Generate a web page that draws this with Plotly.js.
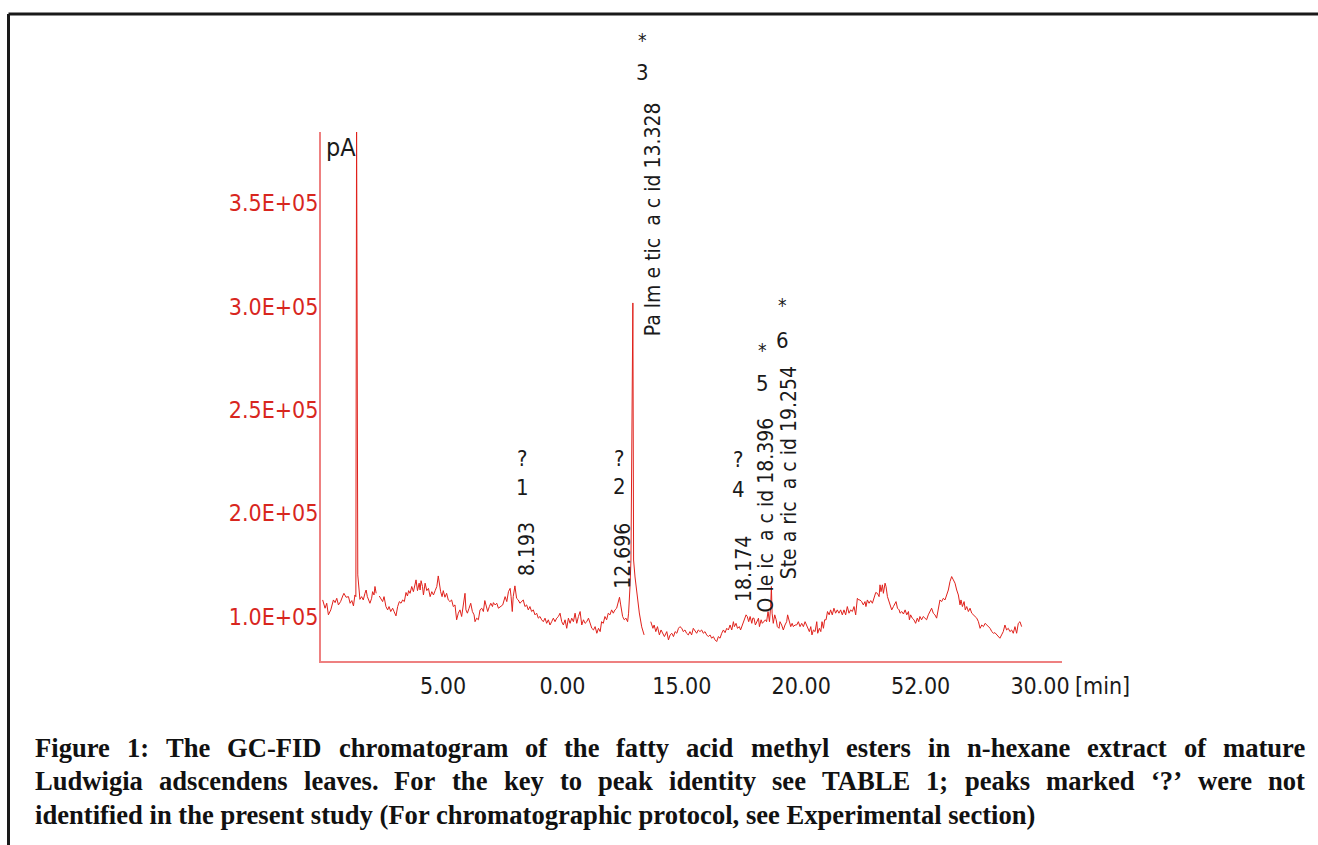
<!DOCTYPE html>
<html>
<head>
<meta charset="utf-8">
<script src="https://cdn.plot.ly/plotly-3.0.1.min.js"></script>
<style>html,body{margin:0;padding:0;background:#fff;}#chart{width:1318px;height:845px;}</style>
</head>
<body>
<div id="chart"></div>
<script>
// ---------- data (retention time in min, detector signal in pA) ----------
const time = [
-0.04,0.06,0.13,0.20,0.30,0.41,0.48,0.55,0.62,0.71,0.80,0.85,0.94,1.04,1.11,1.18,1.25,1.31,1.35,1.38,1.43,1.48,1.52,1.59,1.66,1.73,1.78,1.83,1.87,1.94,2.01,2.05,2.11,2.15,2.20,2.26,
2.33,2.40,2.47,2.53,2.61,2.68,2.74,2.81,2.89,2.95,3.03,3.10,3.17,3.24,3.31,3.38,3.45,3.51,3.56,3.62,3.69,3.76,3.83,3.87,3.93,4.00,4.04,4.08,4.14,4.18,4.25,4.32,4.39,4.46,4.53,4.60,4.67,4.74,4.80,4.85,4.90,4.96,
5.01,5.08,5.15,5.22,5.29,5.36,5.43,5.50,5.57,5.64,5.71,5.78,5.85,5.92,5.96,6.02,6.09,6.16,6.23,6.30,6.34,6.41,6.48,6.55,6.62,6.69,6.75,6.80,6.87,6.94,7.00,7.07,7.11,7.18,7.25,7.32,
7.39,7.50,7.60,7.67,7.74,7.81,7.85,7.90,7.94,8.01,8.08,8.15,8.22,8.29,8.36,8.43,8.50,8.57,8.64,8.71,8.78,8.85,8.92,8.99,9.06,9.13,9.20,9.27,9.34,9.41,9.48,9.55,9.62,9.69,9.76,9.83,9.90,9.97,
10.04,10.11,10.18,10.25,10.32,10.39,10.46,10.53,10.60,10.67,10.74,10.81,10.88,10.95,11.02,11.09,11.16,11.23,11.30,11.37,11.44,11.51,11.58,11.64,11.71,11.78,11.85,11.92,11.99,12.06,12.13,12.20,12.27,12.34,12.39,12.44,12.52,12.59,12.66,12.73,12.77,12.83,
12.87,12.95,12.98,13.04,13.11,13.22,13.32,13.42,13.56,
13.70,13.79,13.84,13.91,13.98,14.06,14.13,14.20,14.27,14.37,14.44,14.51,14.58,14.65,14.72,14.79,14.86,
14.92,15.00,15.06,15.13,15.20,15.27,15.34,15.41,15.48,15.55,15.62,15.69,15.76,15.83,15.90,15.97,16.04,16.11,16.18,16.25,16.32,16.39,16.46,16.53,16.60,16.67,16.74,16.81,16.88,16.95,17.02,17.09,17.16,17.20,17.27,17.33,17.41,17.46,17.55,17.62,17.69,17.74,17.80,17.86,17.93,17.97,
18.02,18.08,18.13,18.21,18.25,18.32,18.37,18.44,18.50,18.55,18.61,18.67,18.72,18.75,18.78,18.83,18.89,18.95,19.00,19.07,19.11,19.18,19.25,19.32,19.39,19.43,19.50,19.56,19.62,19.67,19.74,19.81,19.88,19.95,
20.02,20.09,20.16,20.23,20.30,20.34,20.40,20.45,20.51,20.58,20.65,20.69,20.76,20.82,20.87,20.93,20.98,21.04,21.10,21.17,21.23,21.30,21.37,21.44,21.51,21.58,21.65,21.72,21.79,21.86,21.93,22.00,22.07,22.14,22.21,22.28,22.35,22.41,
22.46,22.53,22.60,22.67,22.71,22.77,22.84,22.91,22.98,23.05,23.12,23.19,23.26,23.30,23.34,23.40,23.44,23.51,23.55,23.61,23.69,23.79,23.86,23.93,23.97,24.03,24.10,24.14,24.21,24.28,24.35,24.42,24.49,24.53,24.58,24.65,24.72,24.79,24.86,24.92,24.97,
25.04,25.11,25.18,25.25,25.32,25.39,25.46,25.53,25.60,25.67,25.74,25.81,25.88,25.95,26.02,26.09,26.16,26.23,26.30,26.37,26.44,26.51,26.58,26.65,26.69,26.75,26.82,26.87,26.93,27.00,27.07,27.14,27.21,27.28,27.35,27.42,27.49,27.56,27.63,27.70,27.77,27.84,27.91,27.98,
28.05,28.11,28.18,28.25,28.32,28.39,28.46,28.53,28.60,28.67,28.74,28.81,28.88,28.95,29.02,29.09,29.16,29.23
];
const signal = [
158200,154200,156600,151000,153400,158200,156900,159000,155800,157400,160100,161400,159500,159800,156600,157900,155300,160600,159800,395000,170300,161400,158500,159800,158200,161400,163000,159800,158500,156600,159000,162200,160600,164700,161400,null,
160100,159000,157400,159800,155000,153400,155000,152600,154200,152600,150500,155000,157400,156600,158200,157400,161800,160100,162700,161400,164700,162200,165500,167900,162700,166300,163000,167500,164700,160600,166300,162700,163800,159800,162200,160600,162700,164700,169800,164700,162200,159800,
162700,159500,161400,158200,157400,158200,155000,155800,148600,151800,153400,150200,155000,161400,153400,151800,154200,156600,152600,151000,147700,149400,148600,153400,154200,152600,157900,155000,152600,155000,156600,155000,156900,155800,156600,154200,
155000,155800,159800,157400,162200,163800,159800,152600,159800,165000,159000,158200,156600,157400,158200,155000,155800,153400,155000,152600,153400,151000,151800,149400,150200,148600,147700,149400,146900,148600,146100,147700,149400,147700,149400,150200,151800,147700,
146100,148600,144500,149400,146900,149400,147700,151800,146900,150200,152600,146100,148600,146900,147700,149400,146900,144500,143700,145300,142100,144500,142900,147700,146900,150200,148600,151800,151000,153400,151800,153400,154200,157400,159500,155800,150200,148600,149400,147700,151800,164700,
177500,301700,177500,169300,161600,151900,145200,141300,null,
147700,144500,146100,142900,145300,141300,143700,142100,140500,142900,138900,141300,142100,140500,142900,142100,144500,
145300,144500,142900,143700,142100,141300,142900,141300,144500,142900,142100,143700,142900,143700,142100,142900,141300,140500,141300,139700,140500,138900,138100,140500,139700,142100,143700,142400,144500,143700,146100,143700,147700,145300,146900,144500,145300,143700,146900,149400,151000,150200,147700,150200,146900,149400,
149400,146100,147700,149400,145300,148600,146900,147700,148600,147700,152600,147700,155000,164700,151800,146900,151000,148600,145300,144500,147700,146100,143700,146100,147700,151000,147700,145300,146900,145300,146100,146100,147700,145300,
146900,145300,147700,146100,143700,142900,145300,141300,143700,142900,147700,142100,144500,142900,147700,144500,148600,148600,152600,151000,153400,151000,154200,151800,153400,151800,153400,151000,153400,151000,155000,151800,153400,152600,155000,151000,159000,158200,
158200,157400,155800,157400,155000,158200,156600,157900,156600,159800,161800,161400,159800,165500,162200,165500,161400,166300,164700,159800,156600,153400,155000,156600,157400,154200,153400,151800,152600,151400,153400,151000,152600,148600,151000,149400,148600,146900,149400,147700,150200,
148600,150200,149400,148600,151000,152600,154200,151800,151000,149400,153400,158200,157400,159000,158200,160600,163000,167100,169500,167900,166300,163000,160600,155800,158200,155000,157400,153400,155000,152600,154200,151800,151000,150200,149400,147700,144500,146100,145300,146900,146100,145300,144500,142900,
142100,142400,141300,140200,139700,141300,142900,146100,143700,144500,142900,143700,142100,145300,142100,146900,147700,145300
];

// axis tick labels as printed on the figure
const yTickVals = [150000, 200000, 250000, 300000, 350000];
const yTickText = ["1.0E+05", "2.0E+05", "2.5E+05", "3.0E+05", "3.5E+05"];
const xTickVals = [5, 10, 15, 20, 25, 30];
const xTickText = ["5.00", "0.00", "15.00", "20.00", "52.00", "30.00"];

// peak labels: rotated identity/time text, and upright peak number / marker
const peakTimes  = [8.52, 12.53, 13.80, 17.60, 18.52, 19.48];
const peakTexts  = ["8.193", "12.696", "Pa lm e tic  a c id 13.328", "18.174", "O le ic  a c id 18.396", "Ste a ric  a c id 19.254"];
const peakNumTimes = [8.31, 12.37, 13.37, 17.37, 18.36, 19.20];
const peakNums   = ["1", "2", "3", "4", "5", "6"];
const peakMarks  = ["?", "?", "*", "?", "*", "*"];

const captionLines = [
  "Figure 1:  The GC-FID chromatogram of the fatty acid methyl esters in n-hexane extract of mature",
  "Ludwigia adscendens leaves. For the key to peak identity see TABLE 1; peaks marked \u2018?\u2019 were not",
  "identified in the present study (For chromatographic protocol, see Experimental section)"
];

// ---------- layout helpers ----------
const W = 1318, H = 845;
const M = {l: 321, r: 256, t: 132, b: 184};
const PW = W - M.l - M.r, PH = H - M.t - M.b;
const px = v => (v - M.l) / PW;          // pixel -> paper x
const py = v => (M.t + PH - v) / PH;     // pixel -> paper y

const NARROW = "'DejaVu Sans Condensed', 'Liberation Sans Narrow', sans-serif";
const SERIF = "'Liberation Serif', 'Times New Roman', serif";
const INK = '#1a1a1a';

const annotations = [];
const rotBottoms = [577, 590, 337, 603, 613, 580];
peakTexts.forEach((t, i) => {
  annotations.push({xref: 'x', yref: 'paper', x: peakTimes[i], y: py(rotBottoms[i]),
    xanchor: 'center', yanchor: 'bottom', text: t, textangle: -90, showarrow: false,
    borderpad: 0, font: {family: NARROW, size: 21, color: INK}});
});
const numY = [487, 486, 72, 489, 383, 340];
const markY = [458, 458, 40, 460, 350, 305];
peakNums.forEach((t, i) => {
  annotations.push({xref: 'x', yref: 'paper', x: peakNumTimes[i], y: py(numY[i]),
    xanchor: 'center', yanchor: 'middle', text: t, showarrow: false, borderpad: 0,
    font: {family: NARROW, size: 22, color: INK}});
  annotations.push({xref: 'x', yref: 'paper', x: peakNumTimes[i], y: py(markY[i]),
    xanchor: 'center', yanchor: 'middle', text: peakMarks[i], showarrow: false, borderpad: 0,
    font: {family: NARROW, size: peakMarks[i] === '*' ? 19 : 22, color: INK}});
});
annotations.push({xref: 'paper', yref: 'paper', x: px(325), y: py(148), xanchor: 'left', yanchor: 'middle',
  text: 'pA', showarrow: false, borderpad: 0, font: {family: NARROW, size: 25, color: INK}});
annotations.push({xref: 'paper', yref: 'paper', x: px(1074), y: py(686), xanchor: 'left', yanchor: 'middle',
  text: '[min]', showarrow: false, borderpad: 0, font: {family: NARROW, size: 23, color: INK}});

// caption, justified like the printed figure
const ctx = document.createElement('canvas').getContext('2d');
const meas = (s, size) => { ctx.font = 'bold ' + size + 'px "Liberation Serif"'; return ctx.measureText(s).width; };
const capLeft = 35, capRight = 1305, lastLineWidth = 1001;
const capSize = Math.round(100 * lastLineWidth / meas(captionLines[2], 100) * 10) / 10;
const capY = [748, 781, 815];
captionLines.forEach((line, li) => {
  if (li < 2) {
    const words = line.split(/\s+/);
    const ws = words.map(w => meas(w, capSize));
    const gap = (capRight - capLeft - ws.reduce((a, b) => a + b, 0)) / (words.length - 1);
    let x = capLeft;
    words.forEach((w, k) => {
      annotations.push({xref: 'paper', yref: 'paper', x: px(x), y: py(capY[li]), xanchor: 'left', yanchor: 'middle',
        text: '<b>' + w + '</b>', showarrow: false, borderpad: 0, borderwidth: 0,
        font: {family: SERIF, size: capSize, color: '#111'}});
      x += ws[k] + gap;
    });
  } else {
    annotations.push({xref: 'paper', yref: 'paper', x: px(capLeft), y: py(capY[li]), xanchor: 'left', yanchor: 'middle',
      text: '<b>' + line + '</b>', showarrow: false, borderpad: 0, borderwidth: 0,
      font: {family: SERIF, size: capSize, color: '#111'}});
  }
});

const shapes = [
  {type: 'line', xref: 'paper', yref: 'paper', x0: px(8.5), x1: px(1320), y0: py(14), y1: py(14), line: {color: INK, width: 3}},
  {type: 'line', xref: 'paper', yref: 'paper', x0: px(8.5), x1: px(8.5), y0: py(14), y1: py(850), line: {color: INK, width: 3}}
];

const trace = {x: time, y: signal, type: 'scatter', mode: 'lines', connectgaps: false,
  line: {color: '#e0211b', width: 1}, hoverinfo: 'skip'};

const layout = {
  width: W, height: H, margin: M, paper_bgcolor: '#fff', plot_bgcolor: '#fff', showlegend: false,
  xaxis: {range: [-0.11, 30.92], showgrid: false, zeroline: false, showline: true, linecolor: '#ee8080', linewidth: 2,
    ticks: '', tickmode: 'array', tickvals: xTickVals, ticktext: xTickText, ticklabelstandoff: 3,
    tickfont: {family: NARROW, size: 23, color: INK}},
  yaxis: {range: [128700, 384300], showgrid: false, zeroline: false, showline: true, linecolor: '#ee8080', linewidth: 2,
    ticks: '', tickmode: 'array', tickvals: yTickVals, ticktext: yTickText, ticklabelstandoff: -4,
    tickfont: {family: NARROW, size: 23, color: '#d8261e'}},
  annotations: annotations, shapes: shapes
};
Plotly.newPlot('chart', [trace], layout, {staticPlot: true, displayModeBar: false});
</script>
</body>
</html>
